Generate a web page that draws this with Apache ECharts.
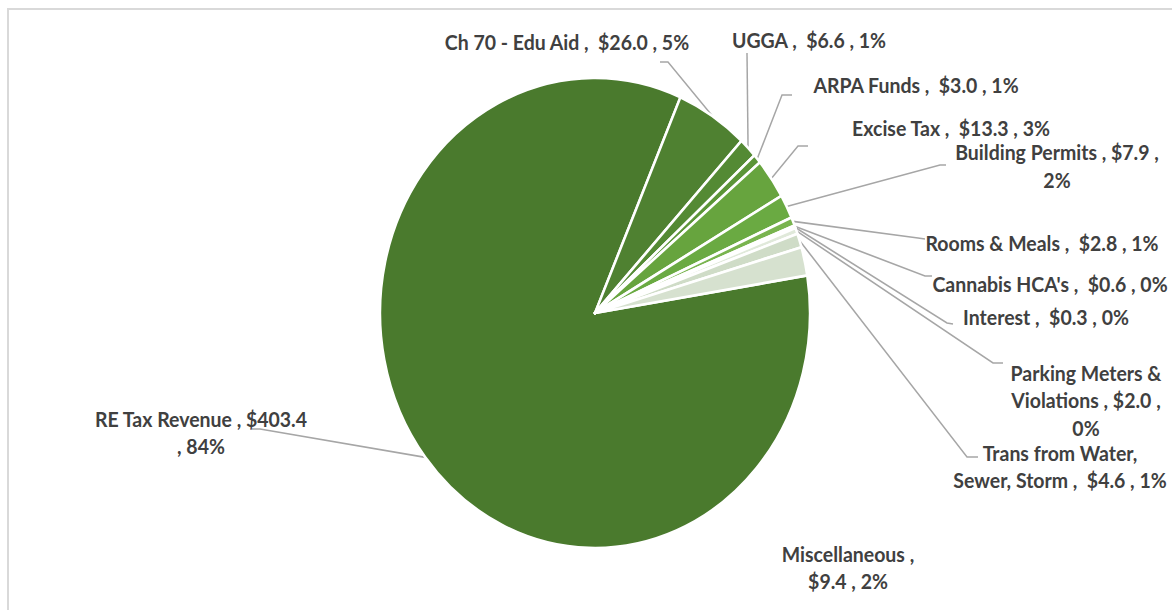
<!DOCTYPE html>
<html>
<head>
<meta charset="utf-8">
<script src="https://cdn.jsdelivr.net/npm/echarts@6/dist/echarts.min.js"></script>
<style>
  html, body { margin: 0; padding: 0; background: #ffffff; overflow: hidden; }
  #frame { position: relative; width: 1172px; height: 610px; overflow: hidden; }
  #chart { position: absolute; left: 0; top: 0; width: 1172px; height: 558px;
           transform-origin: 0 0; transform: scaleY(1.09319); }
</style>
</head>
<body>
<div id="frame"><div id="chart"></div></div>
<script>
// Revenue sources ($ millions), in clockwise order around the pie
const categories = [
  'RE Tax Revenue', 'Ch 70 - Edu Aid', 'UGGA', 'ARPA Funds', 'Excise Tax',
  'Building Permits', 'Rooms & Meals', "Cannabis HCA's", 'Interest',
  'Parking Meters & Violations', 'Trans from Water, Sewer, Storm', 'Miscellaneous'
];
const values = [403.4, 26.0, 6.6, 3.0, 13.3, 7.9, 2.8, 0.6, 0.3, 2.0, 4.6, 9.4];
const sliceColors = [
  '#4a7a2d', '#4f8131', '#548a34', '#5b9537', '#67a43e', '#6aaa42',
  '#79b44f', '#e6eede', '#eef3ea', '#e0e9da', '#cfdcc7', '#d6e1cf'
];

// Vertical stretch applied to the whole drawing surface
const SY = 610 / 558;

// Label placement (page pixels): text centre, leader elbow and end point, text template
const labelLayouts = [
  { x: 201,  y: 432,   line: [260, 429, 252, 429], tpl: '{n} , {v}\n, {p}' },
  { x: 567,  y: 42,    line: [668, 62, 660, 62] },
  { x: 809,  y: 40,    line: [747, 53, 747, 53] },
  { x: 916,  y: 85,    line: [782, 95, 792, 95] },
  { x: 951,  y: 128,   line: [798, 146, 808, 146] },
  { x: 1057, y: 165.5, line: [940, 165, 946, 165], tpl: '{n} , {v} ,\n{p}' },
  { x: 1042, y: 243,   line: [918, 238, 925, 239] },
  { x: 1050, y: 284,   line: [925, 276, 932, 276] },
  { x: 1046, y: 317,   line: [947, 323, 953, 324] },
  { x: 1086, y: 400,   line: [993, 363, 1003, 363], tpl: '{n} , {v} ,\n{p}', nameWrap: 3 },
  { x: 1060, y: 466,   line: [967, 457, 978, 457], nameWrap: 3 },
  { x: 848,  y: 567,   line: null, tpl: '{n} ,\n{v} , {p}' }
];

const total = values.reduce((a, b) => a + b, 0);
const money = v => '$' + v.toFixed(1);
const percent = v => Math.round(v / total * 100) + '%';

function labelText(i) {
  const L = labelLayouts[i];
  let name = categories[i];
  if (L.nameWrap) {
    const w = name.split(' ');
    name = w.slice(0, L.nameWrap).join(' ') + '\n' + w.slice(L.nameWrap).join(' ');
  }
  const tpl = L.tpl || '{n} ,  {v} , {p}';
  return tpl
    .replace('{n}', () => name)
    .replace('{v}', () => money(values[i]))
    .replace('{p}', () => percent(values[i]));
}

const chart = echarts.init(document.getElementById('chart'), null, { renderer: 'svg' });

chart.setOption({
  animation: false,
  backgroundColor: '#ffffff',
  graphic: [{
    type: 'rect',
    shape: { x: 8, y: 9 / SY, width: 1400, height: 800 },
    style: { fill: 'none', stroke: '#d9d9d9', lineWidth: 2 },
    silent: true
  }],
  series: [{
    type: 'pie',
    center: [595, 313 / SY],
    radius: 215,
    startAngle: 9.2,
    clockwise: true,
    avoidLabelOverlap: false,
    emphasis: { disabled: true },
    itemStyle: { borderColor: '#ffffff', borderWidth: 2.5 },
    label: {
      show: true,
      position: 'outside',
      formatter: p => labelText(p.dataIndex),
      fontFamily: 'Lato',
      fontWeight: 'bold',
      fontSize: 19.5,
      lineHeight: 27.5 / SY,
      color: '#404040',
      overflow: 'none'
    },
    labelLine: {
      show: true,
      length: 10,
      length2: 10,
      lineStyle: { color: '#a6a6a6', width: 1.5 }
    },
    labelLayout: function (p) {
      const L = labelLayouts[p.dataIndex];
      const out = { x: L.x, y: L.y / SY, align: 'center', verticalAlign: 'middle' };
      if (L.line && p.labelLinePoints) {
        const s = p.labelLinePoints[0];
        out.labelLinePoints = [
          [s[0], s[1]],
          [L.line[0], L.line[1] / SY],
          [L.line[2], L.line[3] / SY]
        ];
      }
      return out;
    },
    data: categories.map((name, i) => ({
      name: name,
      value: values[i],
      itemStyle: { color: sliceColors[i] },
      labelLine: { show: labelLayouts[i].line !== null }
    }))
  }]
});
</script>
</body>
</html>
